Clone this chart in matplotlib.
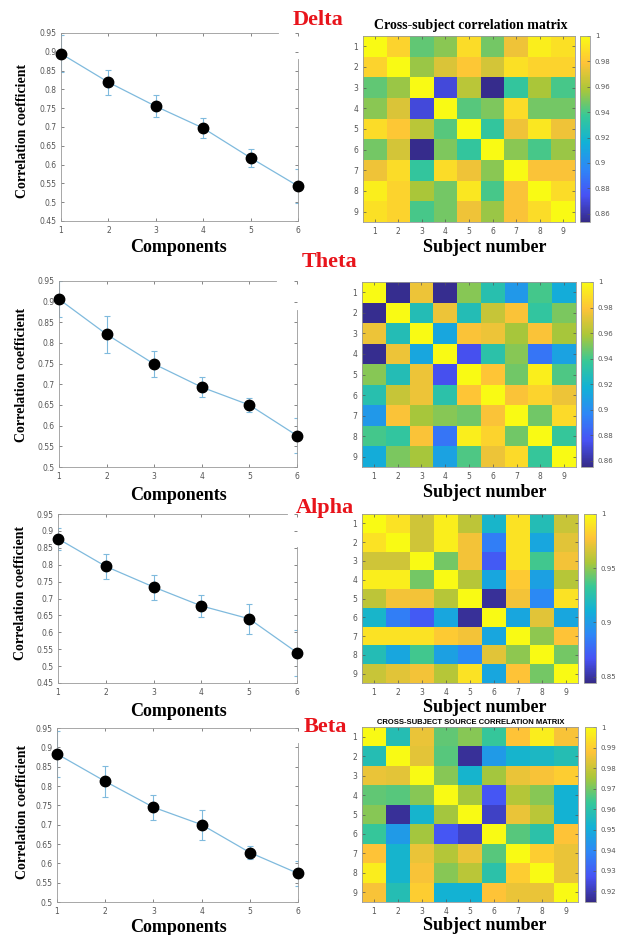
import matplotlib.pyplot as plt
import numpy as np
from matplotlib.colors import LinearSegmentedColormap
from matplotlib.ticker import FuncFormatter

# line plots: mean correlation per number of components
components = [1, 2, 3, 4, 5, 6]
delta_corr = [0.895, 0.819, 0.755, 0.697, 0.618, 0.543]
delta_err = [0.050, 0.033, 0.029, 0.027, 0.024, 0.044]
theta_corr = [0.906, 0.821, 0.749, 0.693, 0.650, 0.576]
theta_err = [0.043, 0.044, 0.031, 0.024, 0.017, 0.042]
alpha_corr = [0.877, 0.795, 0.734, 0.678, 0.640, 0.540]
alpha_err = [0.033, 0.036, 0.037, 0.033, 0.045, 0.068]
beta_corr = [0.883, 0.812, 0.745, 0.700, 0.628, 0.574]
beta_err = [0.060, 0.041, 0.033, 0.039, 0.018, 0.033]

# heatmaps: cross-subject correlation matrices
subjects = [1, 2, 3, 4, 5, 6, 7, 8, 9]
delta_matrix = [
    [1.000, 0.985, 0.945, 0.952, 0.988, 0.948, 0.975, 0.995, 0.990],
    [0.985, 1.000, 0.955, 0.970, 0.980, 0.968, 0.990, 0.985, 0.985],
    [0.945, 0.955, 1.000, 0.870, 0.962, 0.855, 0.935, 0.958, 0.940],
    [0.952, 0.970, 0.870, 1.000, 0.943, 0.950, 0.988, 0.948, 0.948],
    [0.988, 0.980, 0.962, 0.943, 1.000, 0.935, 0.975, 0.992, 0.975],
    [0.948, 0.968, 0.855, 0.950, 0.935, 1.000, 0.952, 0.940, 0.955],
    [0.975, 0.988, 0.935, 0.988, 0.975, 0.952, 1.000, 0.978, 0.978],
    [0.995, 0.985, 0.958, 0.948, 0.992, 0.940, 0.978, 1.000, 0.988],
    [0.990, 0.985, 0.940, 0.948, 0.975, 0.955, 0.978, 0.988, 1.000],
]
theta_matrix = [
    [1.000, 0.857, 0.975, 0.857, 0.952, 0.930, 0.905, 0.940, 0.915],
    [0.857, 1.000, 0.928, 0.975, 0.928, 0.965, 0.978, 0.935, 0.950],
    [0.975, 0.928, 1.000, 0.912, 0.978, 0.975, 0.958, 0.978, 0.958],
    [0.857, 0.975, 0.912, 1.000, 0.875, 0.932, 0.952, 0.890, 0.910],
    [0.952, 0.928, 0.975, 0.875, 1.000, 0.980, 0.948, 0.995, 0.942],
    [0.930, 0.965, 0.975, 0.932, 0.980, 1.000, 0.978, 0.985, 0.975],
    [0.905, 0.978, 0.958, 0.952, 0.948, 0.978, 1.000, 0.948, 0.988],
    [0.940, 0.935, 0.978, 0.890, 0.995, 0.985, 0.948, 1.000, 0.937],
    [0.915, 0.950, 0.958, 0.910, 0.942, 0.975, 0.988, 0.937, 1.000],
]
alpha_matrix = [
    [1.000, 0.990, 0.965, 0.995, 0.960, 0.915, 0.990, 0.922, 0.963],
    [0.990, 1.000, 0.965, 0.995, 0.975, 0.885, 0.990, 0.905, 0.970],
    [0.965, 0.965, 1.000, 0.945, 0.975, 0.870, 0.990, 0.935, 0.975],
    [0.995, 0.995, 0.945, 1.000, 0.958, 0.905, 0.980, 0.902, 0.958],
    [0.960, 0.975, 0.975, 0.958, 1.000, 0.848, 0.975, 0.890, 0.990],
    [0.915, 0.885, 0.870, 0.905, 0.848, 1.000, 0.905, 0.970, 0.905],
    [0.990, 0.990, 0.990, 0.980, 0.975, 0.905, 1.000, 0.950, 0.978],
    [0.922, 0.905, 0.935, 0.902, 0.890, 0.970, 0.950, 1.000, 0.945],
    [0.963, 0.970, 0.975, 0.958, 0.990, 0.905, 0.978, 0.945, 1.000],
]
beta_matrix = [
    [1.000, 0.958, 0.985, 0.968, 0.972, 0.963, 0.988, 0.997, 0.987],
    [0.958, 1.000, 0.984, 0.967, 0.917, 0.945, 0.953, 0.955, 0.958],
    [0.985, 0.984, 1.000, 0.972, 0.953, 0.975, 0.985, 0.987, 0.990],
    [0.968, 0.967, 0.972, 1.000, 0.975, 0.928, 0.977, 0.972, 0.952],
    [0.972, 0.917, 0.953, 0.975, 1.000, 0.922, 0.985, 0.978, 0.952],
    [0.963, 0.945, 0.975, 0.928, 0.922, 1.000, 0.967, 0.960, 0.988],
    [0.988, 0.953, 0.985, 0.977, 0.985, 0.967, 1.000, 0.990, 0.985],
    [0.997, 0.953, 0.987, 0.972, 0.978, 0.960, 0.990, 1.000, 0.985],
    [0.987, 0.958, 0.990, 0.952, 0.952, 0.988, 0.985, 0.985, 1.000],
]
delta_cticks = [0.86, 0.88, 0.90, 0.92, 0.94, 0.96, 0.98, 1.0]
theta_cticks = [0.86, 0.88, 0.90, 0.92, 0.94, 0.96, 0.98, 1.0]
alpha_cticks = [0.85, 0.90, 0.95, 1.0]
beta_cticks = [0.92, 0.93, 0.94, 0.95, 0.96, 0.97, 0.98, 0.99, 1.0]

# approximate MATLAB parula
parula = LinearSegmentedColormap.from_list('parula', [
    (0.2081, 0.1663, 0.5292), (0.2810, 0.3228, 0.9579), (0.1786, 0.5289, 0.9682),
    (0.0689, 0.6948, 0.8394), (0.2161, 0.7843, 0.5923), (0.6720, 0.7793, 0.2227),
    (0.9970, 0.7659, 0.2199), (0.9769, 0.9839, 0.0805)])

W, H = 622, 935
fig = plt.figure(figsize=(W / 100, H / 100), dpi=100)

SERIF = 'Liberation Serif'
TICKC = '#555555'
LINEC = '#7fbadd'
fmt = FuncFormatter(lambda v, p: f'{v:g}')


def box(l, t, r, b):
    return [l / W, 1 - b / H, (r - l) / W, (b - t) / H]


def style_ticks(ax):
    ax.tick_params(direction='in', length=2, width=0.5, labelsize=5.5, colors=TICKC,
                   top=True, right=True)
    for s in ax.spines.values():
        s.set_color('#999999')
        s.set_linewidth(0.6)


def line_panel(pos, corr, err, ylo, top_end, right_start, xlab_y, ylab_xy):
    ax = fig.add_axes(box(*pos))
    ax.errorbar(components, corr, yerr=err, color=LINEC, lw=0.9, elinewidth=0.8,
                capsize=2, capthick=0.8, zorder=2)
    ax.plot(components, corr, 'o', color='black', ms=7.5, zorder=3, clip_on=False)
    ax.set_xlim(1, 6)
    ax.set_ylim(ylo, 0.95)
    ax.set_xticks(components)
    ax.set_yticks(np.round(np.arange(ylo, 0.951, 0.05), 2))
    ax.yaxis.set_major_formatter(fmt)
    style_ticks(ax)
    # the box is broken at the top right corner, as in the source figure
    ax.spines['top'].set_bounds(1, top_end)
    ax.spines['right'].set_bounds(ylo, right_start)
    for t in ax.xaxis.get_major_ticks():
        if t.get_loc() > top_end:
            t.tick2line.set_visible(False)
    for t in ax.yaxis.get_major_ticks():
        if t.get_loc() > right_start:
            t.tick2line.set_visible(False)
    fig.text(178 / W, 1 - xlab_y / H, 'Components', family=SERIF, weight='bold',
             fontsize=13, ha='center', va='center')
    fig.text(ylab_xy[0] / W, 1 - ylab_xy[1] / H, 'Correlation coefficient', family=SERIF,
             weight='bold', fontsize=10, rotation=90, ha='center', va='center')
    return ax


def heat_panel(pos, cpos, matrix, vmin, cticks, xlab_y):
    ax = fig.add_axes(box(*pos))
    im = ax.imshow(np.array(matrix), cmap=parula, vmin=vmin, vmax=1.0, aspect='auto',
                   extent=(0.5, 9.5, 9.5, 0.5), interpolation='nearest')
    ax.set_xticks(subjects)
    ax.set_yticks(subjects)
    style_ticks(ax)
    cax = fig.add_axes(box(*cpos))
    cb = fig.colorbar(im, cax=cax, ticks=cticks)
    cb.ax.yaxis.set_major_formatter(fmt)
    cb.ax.tick_params(direction='in', length=2, width=0.5, labelsize=5, colors=TICKC)
    cb.outline.set_edgecolor('#999999')
    cb.outline.set_linewidth(0.6)
    fig.text(485 / W, 1 - xlab_y / H, 'Subject number', family=SERIF, weight='bold',
             fontsize=13, ha='center', va='center')
    return ax


def band_label(x, y, name):
    fig.text(x / W, 1 - y / H, name, family=SERIF, weight='bold', fontsize=16,
             color='#e8141b', ha='center', va='center')


# Delta
line_panel((61, 33, 298, 221), delta_corr, delta_err, 0.45, 5.58, 0.881, 248, (23, 131))
heat_panel((363, 36, 575, 222), (580, 36, 590, 222), delta_matrix, 0.8535, delta_cticks, 247)
fig.text(471 / W, 1 - 25 / H, 'Cross-subject correlation matrix', family=SERIF,
         weight='bold', fontsize=10, ha='center', va='center')
band_label(318, 20, 'Delta')

# Theta
line_panel((59, 281, 297, 467), theta_corr, theta_err, 0.50, 5.56, 0.881, 495, (22, 375))
heat_panel((362, 282, 576, 467), (581, 282, 593, 467), theta_matrix, 0.855, theta_cticks, 492)
band_label(329, 262, 'Theta')

# Alpha
line_panel((58, 514, 297, 683), alpha_corr, alpha_err, 0.45, 5.79, 0.853, 711, (21, 593))
heat_panel((362, 514, 578, 683), (584, 514, 596, 683), alpha_matrix, 0.844, alpha_cticks, 708)
band_label(325, 508, 'Alpha')

# Beta
line_panel((57, 728, 298, 902), beta_corr, beta_err, 0.50, 5.99, 0.911, 928, (23, 812))
heat_panel((362, 727, 578, 902), (585, 727, 596, 902), beta_matrix, 0.9148, beta_cticks, 926)
fig.text(471 / W, 1 - 722 / H, 'CROSS-SUBJECT SOURCE CORRELATION MATRIX',
         family='Liberation Sans', weight='bold', fontsize=5.5, ha='center', va='center')
band_label(325, 727, 'Beta')

fig.savefig('out.png', dpi=100)
